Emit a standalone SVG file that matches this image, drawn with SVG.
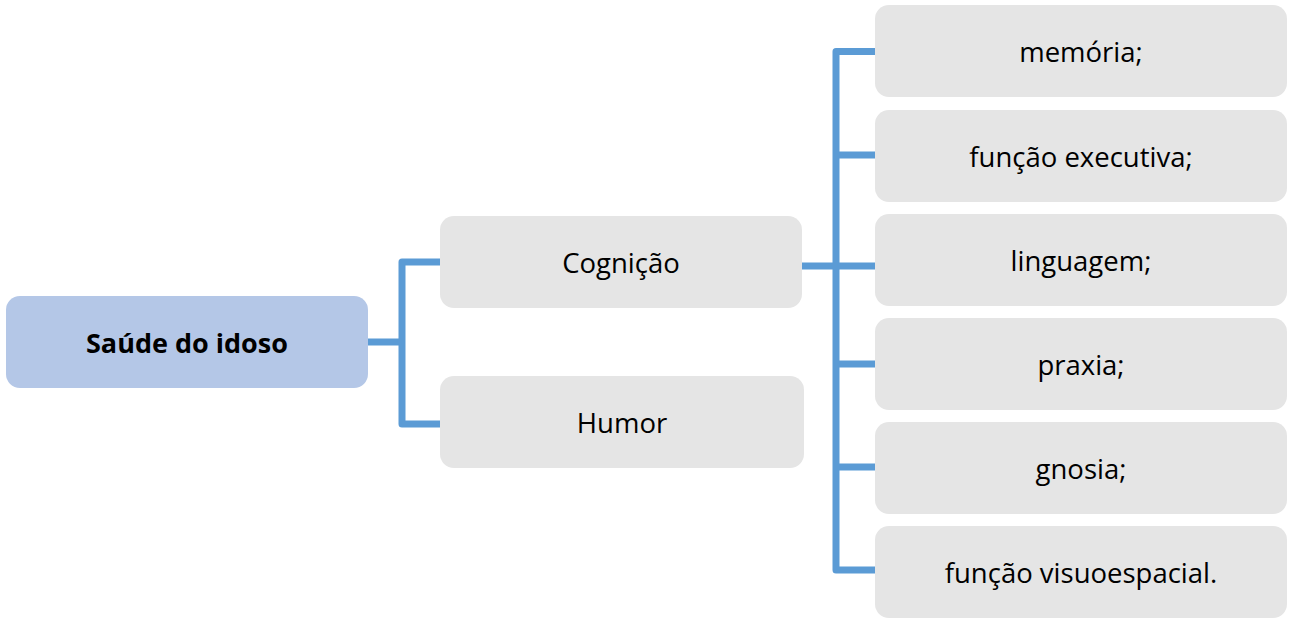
<svg xmlns="http://www.w3.org/2000/svg" width="1293" height="619" viewBox="0 0 1293 619">
<style>
.box{fill:#E5E5E5}
.root{fill:#B4C7E7}
.t{font-family:"Open Sans","Noto Sans",sans-serif;font-size:27.5px;fill:#000;text-anchor:middle;dominant-baseline:central}
.tb{font-weight:bold;font-size:27px}
.c{fill:none;stroke:#5B9BD5;stroke-width:7;stroke-linejoin:round}
</style>
<rect width="1293" height="619" fill="#fff"/>
<g id="connectors">
<path class="c" d="M368 342H402M440 262H402V424H440"/>
<path class="c" d="M802 266H875M875 51.5H836V570H875M836 155H875M836 364H875M836 467H875"/>
</g>
<g id="root"><rect class="root" x="6" y="296" width="362" height="92" rx="14"/><text class="t tb" x="187" y="342">Saúde do idoso</text></g>
<g id="cognicao"><rect class="box" x="440" y="216" width="362" height="92" rx="14"/><text class="t" x="621" y="262">Cognição</text></g>
<g id="humor"><rect class="box" x="440" y="376" width="364" height="92" rx="14"/><text class="t" x="622" y="422">Humor</text></g>
<g id="memoria"><rect class="box" x="875" y="5" width="412" height="92" rx="14"/><text class="t" x="1081" y="51">memória;</text></g>
<g id="funcao-executiva"><rect class="box" x="875" y="110" width="412" height="92" rx="14"/><text class="t" x="1081" y="156">função executiva;</text></g>
<g id="linguagem"><rect class="box" x="875" y="214" width="412" height="92" rx="14"/><text class="t" x="1081" y="260">linguagem;</text></g>
<g id="praxia"><rect class="box" x="875" y="318" width="412" height="92" rx="14"/><text class="t" x="1081" y="364">praxia;</text></g>
<g id="gnosia"><rect class="box" x="875" y="422" width="412" height="92" rx="14"/><text class="t" x="1081" y="468">gnosia;</text></g>
<g id="funcao-visuoespacial"><rect class="box" x="875" y="526" width="412" height="92" rx="14"/><text class="t" x="1081" y="572">função visuoespacial.</text></g>
</svg>
